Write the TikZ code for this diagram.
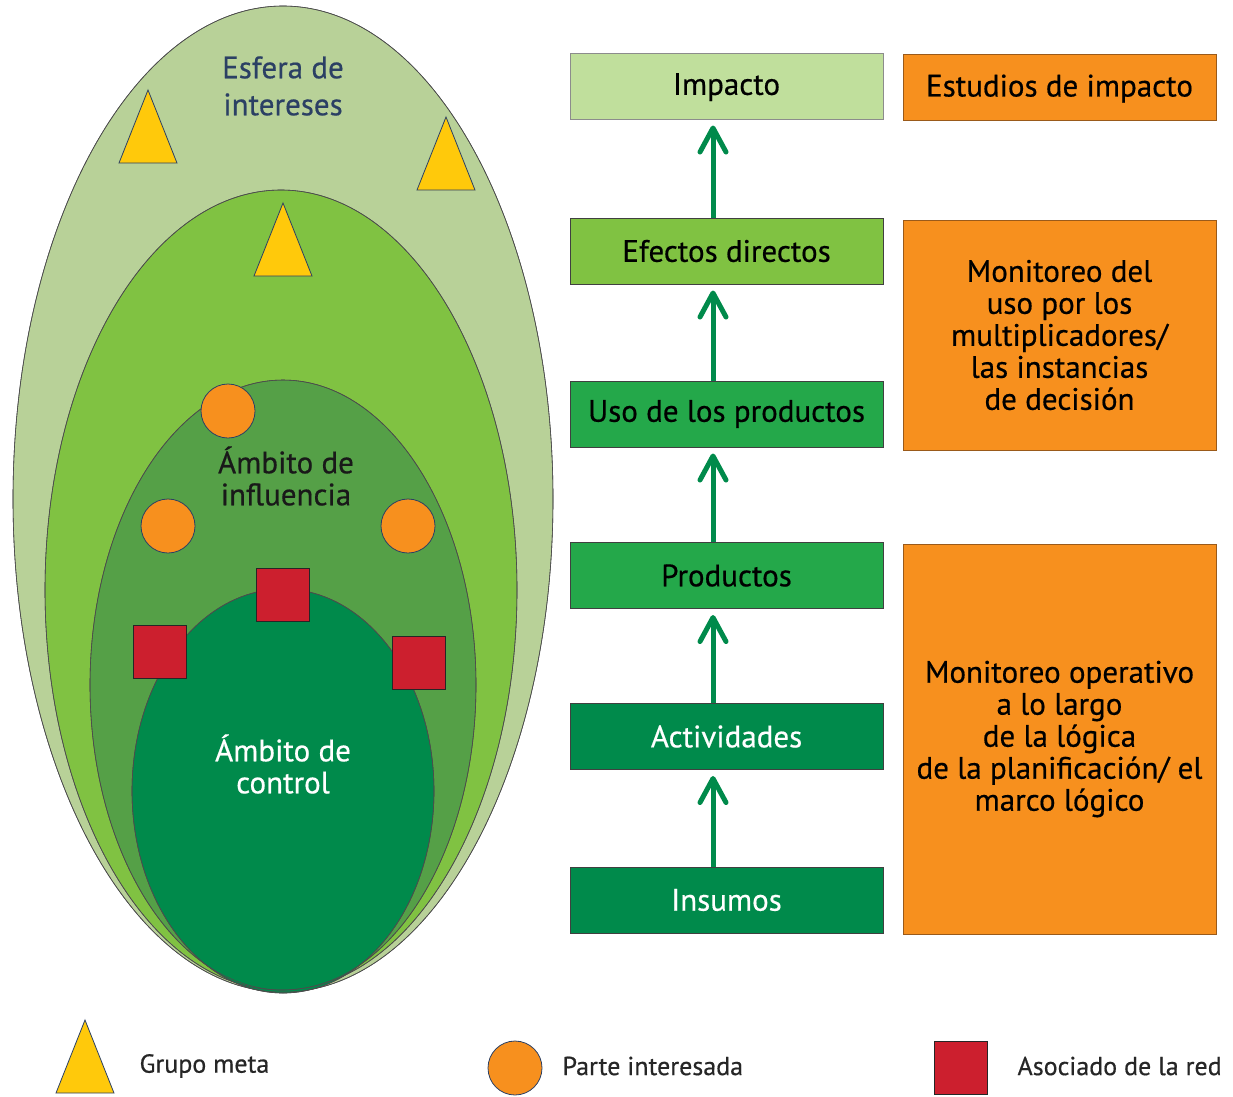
\documentclass[tikz,border=0pt]{standalone}
\usepackage{fontspec}
\setmainfont{PT Sans}[FakeBold=0.5]
\usetikzlibrary{arrows.meta}

\definecolor{esfera}{HTML}{B8D198}
\definecolor{verdemedio}{HTML}{80C242}
\definecolor{influencia}{HTML}{55A047}
\definecolor{verdeoscuro}{HTML}{008A4B}
\definecolor{verdeprod}{HTML}{24A84A}
\definecolor{verdepalido}{HTML}{C0DF9C}
\definecolor{naranja}{HTML}{F7901E}
\definecolor{naranjaborde}{HTML}{9A5A1A}
\definecolor{rojo}{HTML}{CC1F2E}
\definecolor{amarillo}{HTML}{FFC90B}
\definecolor{azul}{HTML}{2B4064}

\tikzset{
  zona/.style={draw=black!70, line width=0.6pt},
  caja/.style={draw=black!75, line width=1pt, minimum width=313pt, minimum height=66pt,
    inner sep=0pt, align=center, font=\fontsize{31}{32}\selectfont},
  monitor/.style={caja, fill=naranja, draw=naranjaborde},
  flecha/.style={draw=verdeoscuro, line width=5pt, shorten >=6pt,
    -{Straight Barb[length=24pt, width=26pt, round]}},
  parte/.style={circle, draw=azul, fill=naranja, line width=0.8pt, minimum size=54pt, inner sep=0pt},
  socio/.style={rectangle, draw=black!85, fill=rojo, line width=0.8pt, minimum size=53pt, inner sep=0pt},
  leyenda/.style={anchor=west, font=\fontsize{26}{28}\selectfont, text=black!85},
  grupo/.pic={\draw[fill=amarillo, draw=azul, line width=0.8pt] (0,0) -- (29,73) -- (-29,73) -- cycle;}
}

\begin{document}
\begin{tikzpicture}[x=1pt, y=-1pt]
    \useasboundingbox (0,0) rectangle (1233,1096);

    % ambitos
    \fill[zona, fill=esfera] (283,499) ellipse [x radius=270pt, y radius=493pt];
    \fill[zona, fill=verdemedio] (281,590) ellipse [x radius=236pt, y radius=400pt];
    \fill[zona, fill=influencia] (283,685) ellipse [x radius=193pt, y radius=305pt];
    \fill[zona, fill=verdeoscuro] (283,791) ellipse [x radius=151pt, y radius=202pt];
    \draw[zona] (283,499) ellipse [x radius=270pt, y radius=493pt];
    \draw[zona] (281,590) ellipse [x radius=236pt, y radius=400pt];
    \draw[zona] (283,685) ellipse [x radius=193pt, y radius=305pt];
    \draw[zona] (283,791) ellipse [x radius=151pt, y radius=202pt];

    \node[align=center, text=azul, font=\fontsize{31}{37}\selectfont] (esfera) at (283,86) {Esfera de\\intereses};
    \node[align=center, text=black!90, font=\fontsize{31}{32}\selectfont] (influ) at (286,476) {Ámbito de\\influencia};
    \node[align=center, text=white, font=\fontsize{31}{32}\selectfont] (control) at (283,764) {Ámbito de\\control};

    % actores
    \pic at (148,90) {grupo};
    \pic at (446,117) {grupo};
    \pic at (283,203) {grupo};
    \node[parte] (p1) at (228,411) {};
    \node[parte] (p2) at (168,526) {};
    \node[parte] (p3) at (408,526) {};
    \node[socio] (s1) at (283,595) {};
    \node[socio] (s2) at (160,652) {};
    \node[socio] (s3) at (419,663) {};

    % cadena de resultados
    \node[caja, fill=verdepalido, draw=black!45, text depth=4pt] (impacto) at (726.5,86) {Impacto};
    \node[caja, fill=verdemedio] (efectos) at (726.5,251) {Efectos directos};
    \node[caja, fill=verdeprod] (uso) at (726.5,414) {Uso de los productos};
    \node[caja, fill=verdeprod] (productos) at (726.5,575.5) {Productos};
    \node[caja, fill=verdeoscuro, text=white] (actividades) at (726.5,736.5) {Actividades};
    \node[caja, fill=verdeoscuro, text=white] (insumos) at (726.5,900) {Insumos};

    \foreach \a/\b in {efectos/impacto, uso/efectos, productos/uso, actividades/productos, insumos/actividades}
      \draw[flecha] ([xshift=-13.5pt]\a.north) -- ([xshift=-13.5pt]\b.south);

    % monitoreo
    \node[monitor, text depth=4pt] (estudios) at (1059.5,87.5) {Estudios de impacto};
    \node[monitor, minimum height=230pt] (usomon) at (1059.5,335) {Monitoreo del\\uso por los\\multiplicadores/\\las instancias\\de decisión};
    \node[monitor, minimum height=390pt] (operativo) at (1059.5,739) {Monitoreo operativo\\a lo largo\\de la lógica\\de la planificación/ el\\marco lógico};

    % leyenda
    \pic at (85,1020) {grupo};
    \node[leyenda] (lgrupo) at (136,1066) {Grupo meta};
    \node[parte] (lparte) at (515,1068) {};
    \node[leyenda] (lparteT) at (559,1066) {Parte interesada};
    \node[socio] (lsocio) at (960.5,1068) {};
    \node[leyenda] (lsocioT) at (1014,1066) {Asociado de la red};
\end{tikzpicture}
\end{document}
